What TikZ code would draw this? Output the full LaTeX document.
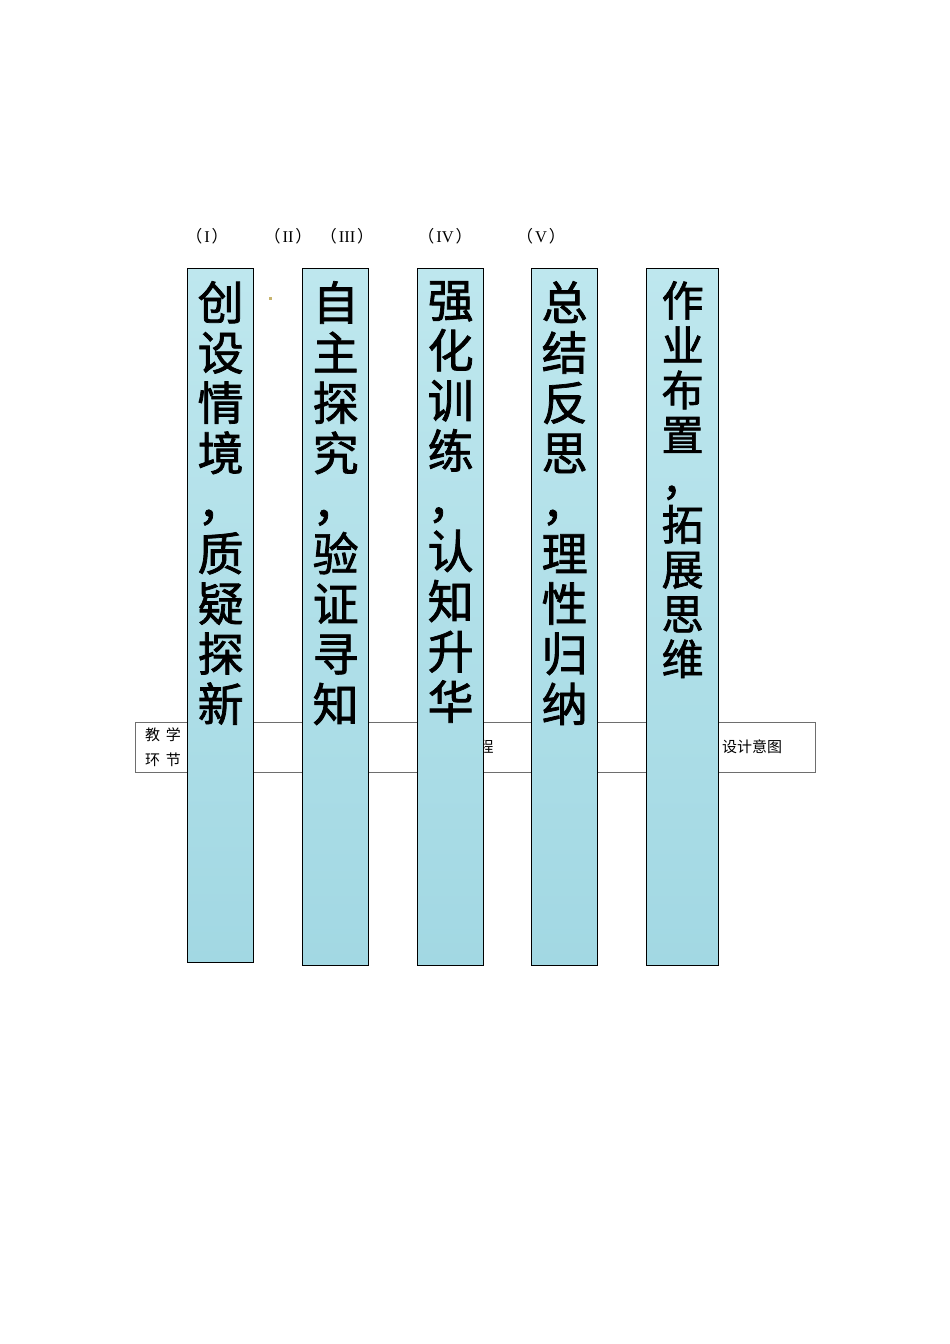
\documentclass[tikz,border=0pt]{standalone}
\usepackage{fontspec}
\setmainfont{Liberation Serif}
\newfontfamily\cjk{Noto Sans CJK SC}
\newfontfamily\cjkthick[FakeBold=1.6]{Noto Sans CJK SC}
\usetikzlibrary{positioning}
\definecolor{drop}{HTML}{BEE7EE}
\definecolor{dropdark}{HTML}{A2D8E3}
\definecolor{rule}{HTML}{6E6E6E}
\definecolor{speck}{HTML}{C8B46E}
\newcommand{\romlabel}[1]{{\cjk （}\hspace{2pt}#1\hspace{2pt}{\cjk ）}}

\begin{document}
\begin{tikzpicture}[x=1pt,y=-1pt,
    col node/.style={draw=black,line width=1.3pt,top color=drop,bottom color=dropdark,anchor=north west,minimum width=66pt,minimum height=697pt,inner sep=0pt},
    col text/.style={inner sep=0pt,align=center,font=\cjkthick\fontsize{46}{50.2}\selectfont},
    num node/.style={inner sep=0pt,font=\fontsize{16.5}{18}\selectfont},
    cell text/.style={inner sep=0pt,font=\cjk\fontsize{15}{25}\selectfont}]

    \useasboundingbox[fill=white] (0,0) rectangle (950,1344);

    % roman numbers above the columns
    \node[num node] (n1) at (207,236) {\romlabel{I}};
    \node[num node] (n2) at (288,236) {\romlabel{II}};
    \node[num node] (n3) at (347,236) {\romlabel{III}};
    \node[num node] (n4) at (445,236) {\romlabel{IV}};
    \node[num node] (n5) at (541,236) {\romlabel{V}};

    \fill[speck] (268.5,296.5) rectangle (271.5,299.5);

    % table row behind the columns
    \draw[rule,line width=1pt] (135,722) rectangle (815,772);
    \node[cell text,align=left] (jx) at (163,747) {教\ \,学\\环\ \,节};
    \node[cell text] (gc) at (486,747) {程};
    \node[cell text,anchor=west] (yt) at (722,747) {设计意图};

    % columns
    \node[col node,minimum height=694pt] (c1) at (187,268) {};
    \node[col node] (c2) at (302,268) {};
    \node[col node] (c3) at (417,268) {};
    \node[col node] (c4) at (531,268) {};
    \node[col node,minimum width=72pt] (c5) at (646,268) {};

    \node[col text,below=13pt of c1.north] (t1) {创\\设\\情\\境\\，\\质\\疑\\探\\新};
    \node[col text,below=13pt of c2.north] (t2) {自\\主\\探\\究\\，\\验\\证\\寻\\知};
    \node[col text,below=13pt of c3.north] (t3) {强\\化\\训\\练\\，\\认\\知\\升\\华};
    \node[col text,below=13pt of c4.north] (t4) {总\\结\\反\\思\\，\\理\\性\\归\\纳};
    \node[col text,font=\cjkthick\fontsize{42}{44.8}\selectfont,below=13pt of c5.north] (t5) {作\\业\\布\\置\\，\\拓\\展\\思\\维};
\end{tikzpicture}
\end{document}
